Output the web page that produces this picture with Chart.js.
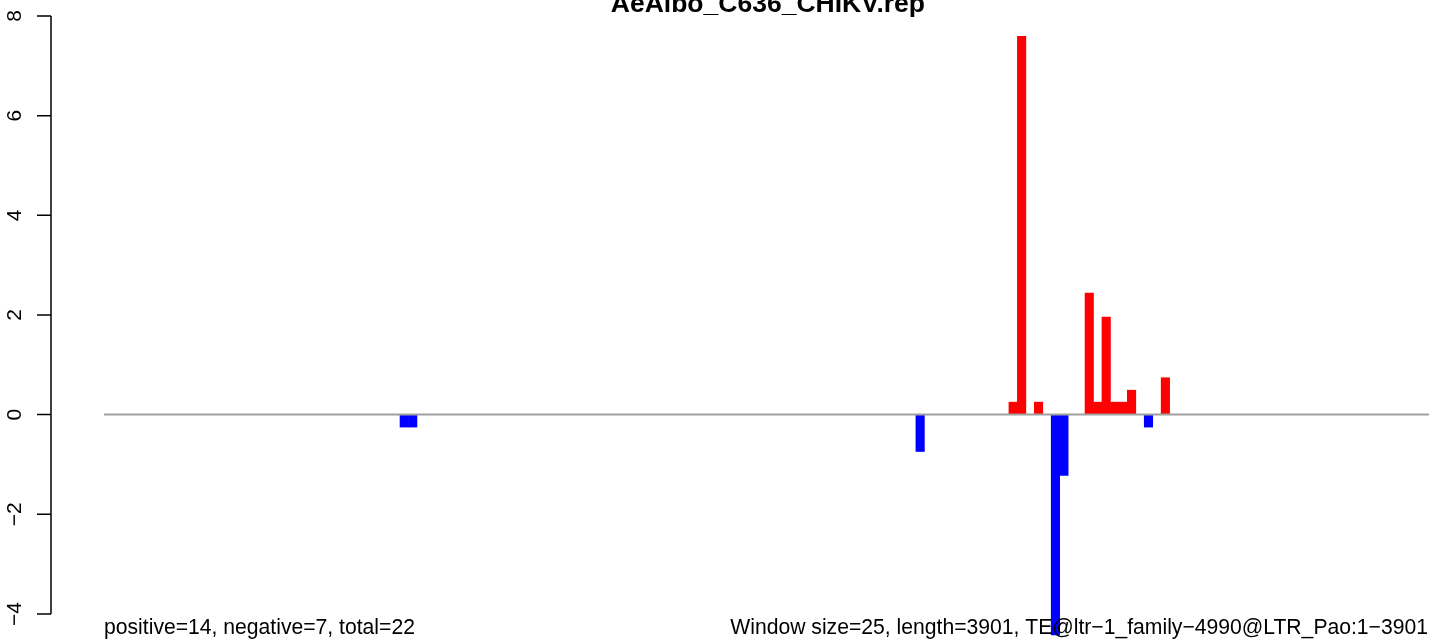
<!DOCTYPE html>
<html>
<head>
<meta charset="utf-8">
<title>AeAlbo_C636_CHIKV.rep</title>
<script src="https://cdn.jsdelivr.net/npm/chart.js@4/dist/chart.umd.min.js"></script>
<style>
  html, body { margin: 0; padding: 0; background: #fff; overflow: hidden; }
  #wrap { width: 1429px; height: 639px; }
</style>
</head>
<body>
<div id="wrap"><canvas id="repChart" width="1429" height="639"></canvas></div>
<script>
// 25 nt windows over a 3901 nt element -> 157 windows
const windowCount = 157;
// windows with reads (0-based) and their scores
const hitWindows = [35, 36, 96, 107, 108, 110, 112, 113, 116, 117, 118, 119, 120, 121, 123, 125];
const hitScores = [-0.25, -0.25, -0.74, 0.25, 7.59, 0.25, -4.42, -1.22, 2.44, 0.25, 1.96, 0.25, 0.25, 0.49, -0.25, 0.74];
const yTicks = [-4, -2, 0, 2, 4, 6, 8];

const titleText = "AeAlbo_C636_CHIKV.rep";
const leftNote = "positive=14, negative=7, total=22";
const rightNote = "Window size=25, length=3901, TE@ltr\u22121_family\u22124990@LTR_Pao:1\u22123901";

const scores = new Array(windowCount).fill(0);
hitWindows.forEach((w, i) => { scores[w] = hitScores[i]; });
const points = scores.map((v, i) => ({ x: i + 0.5, y: v }));

// axis, zero line and the texts, drawn with the chart's scales (R base-graphics look)
const rLook = {
  id: "rLook",
  afterDatasetsDraw(chart) {
    const ctx = chart.ctx;
    const xs = chart.scales.x;
    const ys = chart.scales.y;
    const left = chart.chartArea.left;
    ctx.save();

    // zero line
    ctx.strokeStyle = "#a0a0a0";
    ctx.lineWidth = 2;
    ctx.beginPath();
    ctx.moveTo(xs.getPixelForValue(0), ys.getPixelForValue(0));
    ctx.lineTo(xs.getPixelForValue(windowCount), ys.getPixelForValue(0));
    ctx.stroke();

    // y axis
    ctx.strokeStyle = "#000";
    ctx.lineWidth = 1.5;
    ctx.beginPath();
    ctx.moveTo(left, ys.getPixelForValue(yTicks[0]));
    ctx.lineTo(left, ys.getPixelForValue(yTicks[yTicks.length - 1]));
    yTicks.forEach((t) => {
      const y = ys.getPixelForValue(t);
      ctx.moveTo(left, y);
      ctx.lineTo(left - 14, y);
    });
    ctx.stroke();

    ctx.fillStyle = "#000";
    ctx.font = "21px 'Liberation Sans', Arial, sans-serif";
    ctx.textAlign = "center";
    ctx.textBaseline = "alphabetic";
    yTicks.forEach((t) => {
      const y = ys.getPixelForValue(t);
      ctx.save();
      ctx.translate(20.5, y);
      ctx.rotate(-Math.PI / 2);
      ctx.fillText(t < 0 ? "\u2212" + Math.abs(t) : String(t), 0, 0);
      ctx.restore();
    });

    // title, centred over the whole plot region
    const regionRight = xs.getPixelForValue(windowCount) + (xs.getPixelForValue(0) - left);
    ctx.font = "bold 26.5px 'Liberation Sans', Arial, sans-serif";
    ctx.textAlign = "center";
    ctx.fillText(titleText, (left + regionRight) / 2, 12);

    // notes under the bars
    ctx.font = "21.15px 'Liberation Sans', Arial, sans-serif";
    ctx.textAlign = "left";
    ctx.fillText(leftNote, xs.getPixelForValue(0), 634);
    ctx.textAlign = "right";
    ctx.fillText(rightNote, chart.chartArea.right - 1, 634);

    ctx.restore();
  }
};

new Chart(document.getElementById("repChart").getContext("2d"), {
  type: "bar",
  data: {
    datasets: [
      {
        data: points,
        backgroundColor: scores.map((v) => (v > 0 ? "#ff0000" : v < 0 ? "#0000ff" : "rgba(0,0,0,0)")),
        borderWidth: 0,
        barPercentage: 1,
        categoryPercentage: 1,
      },
    ],
  },
  options: {
    responsive: false,
    devicePixelRatio: 1,
    animation: false,
    layout: { padding: { left: 51, right: 0, top: 0, bottom: 0 } },
    plugins: { legend: { display: false }, tooltip: { enabled: false } },
    scales: {
      x: { type: "linear", min: -6.27, max: 156.67, offset: false, display: false },
      y: { min: -4.503, max: 8.321, display: false },
    },
  },
  plugins: [rLook],
});
</script>
</body>
</html>
